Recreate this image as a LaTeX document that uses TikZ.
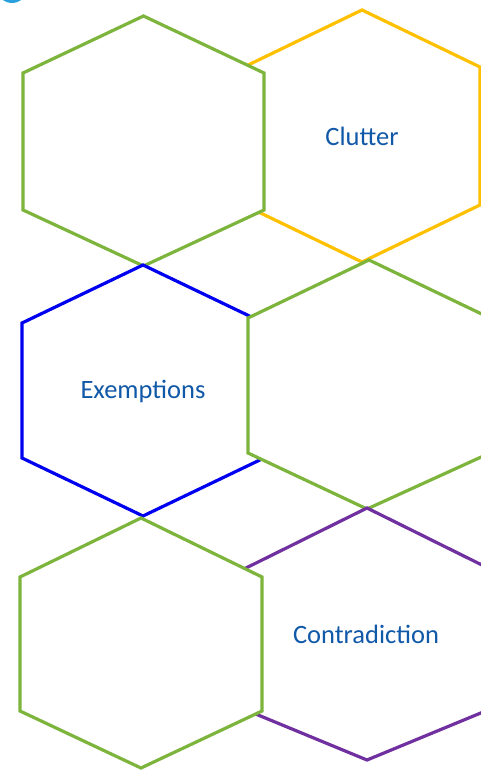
\documentclass[tikz,border=0pt]{standalone}
\usepackage{fontspec}
\setmainfont{Carlito}
\definecolor{hgreen}{RGB}{125,180,60}
\definecolor{hyellow}{RGB}{255,192,0}
\definecolor{hblue}{RGB}{0,0,240}
\definecolor{hpurple}{RGB}{112,48,160}
\definecolor{htext}{RGB}{16,88,168}
\definecolor{hdot}{RGB}{41,160,221}
\begin{document}
\begin{tikzpicture}[x=1pt,y=-1pt,
  hexline/.style={line width=3.2pt,fill=white,line join=miter},
  lbl/.style={text=htext,font=\fontsize{26.5}{30}\selectfont,inner sep=0pt}]
\useasboundingbox (0,0) rectangle (481,770);
\fill[hdot] (12,-12) circle (15);
% yellow (behind)
\draw[hexline,draw=hyellow] (362,10) -- (480,67) -- (480,205) -- (362,262) -- (244,205) -- (244,67) -- cycle;
\node[lbl] (clutter) at (362,136) {Clutter};
% green top-left
\draw[hexline,draw=hgreen] (143.5,16) -- (264,73) -- (264,210) -- (143.5,266) -- (23,210) -- (23,73) -- cycle;
% blue
\draw[hexline,draw=hblue] (143,265) -- (264,323) -- (264,458) -- (143,516) -- (22,458) -- (22,323) -- cycle;
\node[lbl] (exemptions) at (143,391) {Exemptions};
% green mid-right
\draw[hexline,draw=hgreen] (369,260) -- (490,318) -- (490,453) -- (367,509) -- (248,453) -- (248,318) -- cycle;
% purple
\draw[hexline,draw=hpurple] (367,508) -- (488,568) -- (488,710) -- (367,760) -- (246,710) -- (246,568) -- cycle;
\node[lbl] (contradiction) at (366,634) {Contradiction};
% green bottom-left
\draw[hexline,draw=hgreen] (141,518) -- (262,577) -- (262,711) -- (141,768) -- (20,711) -- (20,577) -- cycle;
\end{tikzpicture}
\end{document}
